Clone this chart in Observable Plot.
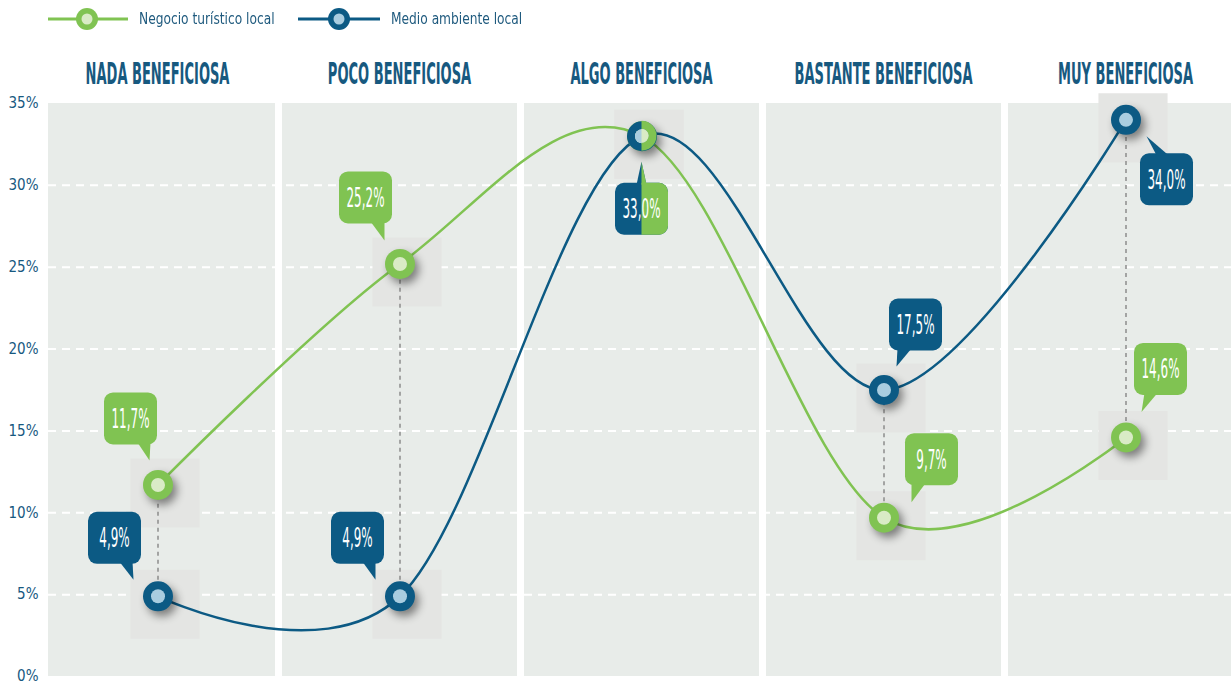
<!DOCTYPE html>
<html>
<head>
<meta charset="utf-8">
<script src="https://cdn.jsdelivr.net/npm/d3@7"></script>
<script src="https://cdn.jsdelivr.net/npm/@observablehq/plot@0.6"></script>
<style>
  html, body { margin: 0; padding: 0; background: #ffffff; }
  body { width: 1231px; height: 684px; overflow: hidden; font-family: "Liberation Sans Narrow", "DejaVu Sans Condensed", sans-serif; }
  #legend { position: relative; width: 1231px; height: 40px; }
  #legend .sw { position: absolute; top: 0; }
  #legend .lt { position: absolute; top: 10px; font-size: 16px; color: #1f5a7e; line-height: 18px; white-space: nowrap; display: inline-block; transform: scaleX(0.85); transform-origin: 0 50%; }
  #chart svg { display: block; }
</style>
</head>
<body>
<div id="legend"></div>
<div id="chart"></div>
<script>
// ---------------- data ----------------
const categories = ["NADA BENEFICIOSA", "POCO BENEFICIOSA", "ALGO BENEFICIOSA", "BASTANTE BENEFICIOSA", "MUY BENEFICIOSA"];
const seriesNames = ["Negocio turístico local", "Medio ambiente local"];
const negocioValues = [11.7, 25.2, 33.0, 9.7, 14.6];
const medioValues = [4.9, 4.9, 33.0, 17.5, 34.0];
const yTicks = [0, 5, 10, 15, 20, 25, 30, 35];

// ---------------- styles ----------------
const colors = {
  "Negocio turístico local": {main: "#80c352", light: "#d9ebc6"},
  "Medio ambiente local": {main: "#0c5a84", light: "#a9cde0"}
};
const textBlue = "#17597f";
const bandFill = "#e8ece9";
const fontStack = "'Liberation Sans Narrow', 'DejaVu Sans Condensed', sans-serif";

// label bubble layout (pixel offsets from marker centre)
const labelLayout = {
  "Negocio turístico local": [
    {box: [-27, -66], tail: "bottom", base: [-20, -7], tip: [-8, -24]},
    {box: [-34, -66], tail: "bottom", base: [-29, -15], tip: [-15, -23]},
    {box: [0, 73], tail: "top", base: [-5, 5], tip: [0, 26], split: true},
    {box: [48, -58], tail: "bottom", base: [28, 42], tip: [28, -15]},
    {box: [35, -68], tail: "bottom", base: [19, 32], tip: [16, -25]}
  ],
  "Medio ambiente local": [
    {box: [-43, -58], tail: "bottom", base: [-38, -25], tip: [-24, -16]},
    {box: [-42, -58], tail: "bottom", base: [-37, -24], tip: [-24, -16]},
    null,
    {box: [32, -65], tail: "bottom", base: [14, 28], tip: [13, -23]},
    {box: [41, 60], tail: "top", base: [31, 43], tip: [21, 17]}
  ]
};

// ---------------- derived tables ----------------
const seriesValues = [negocioValues, medioValues];
const rows = [];
seriesNames.forEach((s, si) => {
  categories.forEach((c, i) => rows.push({series: s, cat: c, value: seriesValues[si][i], i}));
});
const negocioRows = rows.filter(d => d.series === seriesNames[0]);
const medioRows = rows.filter(d => d.series === seriesNames[1]);
const connectors = categories.map((c, i) => ({
  cat: c,
  lo: Math.min(negocioValues[i], medioValues[i]),
  hi: Math.max(negocioValues[i], medioValues[i])
})).filter(d => d.hi > d.lo);
const fmt = v => v.toFixed(1).replace(".", ",") + "%";

// ---------------- legend ----------------
(function buildLegend() {
  const legend = document.getElementById("legend");
  const items = [
    {name: seriesNames[0], x1: 48, x2: 128, cx: 87, tx: 139},
    {name: seriesNames[1], x1: 298, x2: 380, cx: 339, tx: 391}
  ];
  for (const it of items) {
    const c = colors[it.name];
    const sw = d3.create("svg").attr("class", "sw").attr("width", it.x2 - it.x1).attr("height", 40)
      .style("left", it.x1 + "px");
    sw.append("line").attr("x1", 0).attr("x2", it.x2 - it.x1).attr("y1", 19).attr("y2", 19)
      .attr("stroke", c.main).attr("stroke-width", 3);
    sw.append("circle").attr("cx", it.cx - it.x1).attr("cy", 19).attr("r", 11).attr("fill", c.main);
    sw.append("circle").attr("cx", it.cx - it.x1).attr("cy", 19).attr("r", 5.5).attr("fill", c.light);
    legend.appendChild(sw.node());
    const t = document.createElement("span");
    t.className = "lt";
    t.style.left = it.tx + "px";
    t.textContent = it.name;
    legend.appendChild(t);
  }
})();

// ---------------- custom marks (use Plot's x / y scales) ----------------
function centerOf(x) {
  const bw = x.bandwidth ? x.bandwidth() : 0;
  return c => x(c) + bw / 2;
}

// column headers above each band
function headerMark(index, scales) {
  const {x, y} = scales;
  const xc = centerOf(x);
  const g = d3.create("svg:g").attr("aria-label", "column headers");
  categories.forEach(c => {
    const tx = xc(c), ty = y(35) - 19;
    g.append("text")
      .attr("class", "col-header")
      .attr("data-x", tx).attr("data-y", ty)
      .attr("transform", `translate(${tx},${ty})`)
      .attr("text-anchor", "middle")
      .attr("fill", textBlue).attr("font-size", 30).attr("font-weight", "bold")
      .attr("font-family", fontStack)
      .text(c);
  });
  return g.node();
}

function bubbleMark(index, scales) {
  const {x, y} = scales;
  const xc = centerOf(x);
  const g = d3.create("svg:g").attr("aria-label", "bubbles");
  const W = 53, H = 52, R = 9;

  // half-coloured shared marker (where both series coincide)
  categories.forEach((c, i) => {
    if (negocioValues[i] === medioValues[i]) {
      const cx = xc(c), cy = y(negocioValues[i]);
      const col = colors[seriesNames[0]];
      g.append("path").attr("transform", `translate(${cx},${cy})`)
        .attr("d", d3.arc()({innerRadius: 7, outerRadius: 15, startAngle: 0, endAngle: Math.PI}))
        .attr("fill", col.main);
      g.append("path").attr("transform", `translate(${cx},${cy})`)
        .attr("d", d3.arc()({innerRadius: 0, outerRadius: 7, startAngle: 0, endAngle: Math.PI}))
        .attr("fill", col.light);
    }
  });

  rows.forEach(d => {
    const L = labelLayout[d.series][d.i];
    if (!L) return;
    const cx = xc(d.cat), cy = y(d.value);
    const bx = cx + L.box[0], by = cy + L.box[1];
    const edgeY = L.tail === "top" ? by - H / 2 + 2 : by + H / 2 - 2;
    const draw = (parent, fill) => {
      parent.append("rect").attr("x", bx - W / 2).attr("y", by - H / 2)
        .attr("width", W).attr("height", H).attr("rx", R).attr("fill", fill);
      parent.append("path")
        .attr("d", `M${cx + L.base[0]},${edgeY}L${cx + L.base[1]},${edgeY}L${cx + L.tip[0]},${cy + L.tip[1]}Z`)
        .attr("fill", fill);
    };
    if (L.split) {
      draw(g, colors[seriesNames[1]].main);
      const id = "clip-split-" + d.i;
      g.append("clipPath").attr("id", id).append("rect")
        .attr("x", cx).attr("y", by - 200).attr("width", 200).attr("height", 400);
      draw(g.append("g").attr("clip-path", `url(#${id})`), colors[seriesNames[0]].main);
    } else {
      draw(g, colors[d.series].main);
    }
    g.append("text")
      .attr("class", "bubble-label")
      .attr("data-x", bx).attr("data-y", by)
      .attr("transform", `translate(${bx},${by})`)
      .attr("text-anchor", "middle").attr("dy", "0.36em")
      .attr("fill", "#ffffff").attr("font-size", 26)
      .attr("font-family", fontStack)
      .text(fmt(d.value));
  });
  return g.node();
}

// ---------------- plot ----------------
const chart = Plot.plot({
  width: 1231,
  height: 644,
  marginTop: 63,
  marginBottom: 8,
  marginLeft: 48,
  marginRight: 0,
  style: {background: "transparent", color: textBlue, fontFamily: fontStack, overflow: "visible"},
  x: {type: "band", domain: categories, range: [39, 1244], paddingInner: 0.029, paddingOuter: 0, axis: null},
  y: {domain: [0, 35], axis: null},
  marks: [
    Plot.barY(categories, {x: d => d, y1: 0, y2: 35, fill: bandFill, clip: true}),
    Plot.ruleY(yTicks.filter(t => t > 0 && t < 35), {stroke: "#ffffff", strokeWidth: 2, strokeDasharray: "8,6"}),
    Plot.axisY(yTicks, {tickFormat: d => d + "%", tickSize: 0, tickPadding: 10, fontSize: 15, label: null}),
    headerMark,
    Plot.dot(rows, {x: "cat", y: "value", symbol: "square", r: 39, fill: "#e4e5e3", dx: 7, dy: 8}),
    Plot.ruleX(connectors, {x: "cat", y1: "lo", y2: "hi", stroke: "#8c8c8c", strokeWidth: 1.5, strokeDasharray: "4,4"}),
    Plot.line(negocioRows, {x: "cat", y: "value", stroke: colors[seriesNames[0]].main, strokeWidth: 2.5, curve: "cardinal", tension: 0}),
    Plot.line(medioRows, {x: "cat", y: "value", stroke: colors[seriesNames[1]].main, strokeWidth: 2.5, curve: "cardinal", tension: 0}),
    Plot.dot(rows, {x: "cat", y: "value", r: 15, fill: d => colors[d.series].main, imageFilter: "drop-shadow(4px 5px 4px rgba(0,0,0,0.45))"}),
    Plot.dot(rows, {x: "cat", y: "value", r: 7, fill: d => colors[d.series].light}),
    bubbleMark
  ]
});
document.getElementById("chart").appendChild(chart);

// condense texts horizontally: the first text of each group sets the width of the group
function condense(selector, targetWidth) {
  const texts = [...chart.querySelectorAll(selector)];
  const len = texts.length ? texts[0].getComputedTextLength() : 0;
  if (!(len > 0)) return;
  const s = targetWidth / len;
  for (const t of texts) {
    t.setAttribute("transform", `translate(${t.getAttribute("data-x")},${t.getAttribute("data-y")}) scale(${s.toFixed(4)},1)`);
  }
}
condense("text.col-header", 144);   // "NADA BENEFICIOSA"
condense("text.bubble-label", 38);  // "11,7%"
</script>
</body>
</html>
